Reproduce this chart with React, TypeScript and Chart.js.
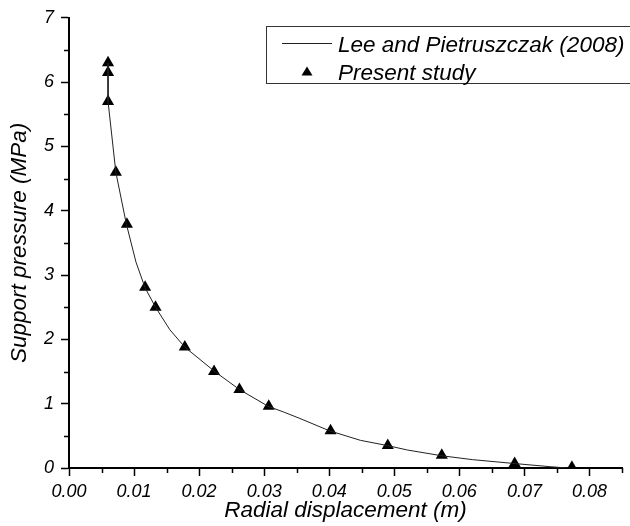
import React, { useEffect, useRef } from "react";
import { Chart, registerables } from "chart.js";

Chart.register(...registerables);

// Reference curve: Lee and Pietruszczak (2008)
const leeX = [0.006, 0.006, 0.0072, 0.0088, 0.0103, 0.0117, 0.0133, 0.0155, 0.0178, 0.0224, 0.0262, 0.0306, 0.033, 0.0355, 0.04, 0.0448, 0.0489, 0.052, 0.0573, 0.062, 0.0684, 0.074, 0.0766];
const leeY = [6.3, 5.7, 4.6, 3.8, 3.2, 2.8, 2.5, 2.15, 1.88, 1.5, 1.22, 0.96, 0.87, 0.77, 0.58, 0.43, 0.35, 0.28, 0.19, 0.13, 0.07, 0.02, 0.0];

// Present study points
const studyX = [0.006, 0.006, 0.006, 0.0072, 0.0089, 0.0117, 0.0133, 0.0178, 0.0223, 0.0262, 0.0307, 0.0402, 0.049, 0.0573, 0.0685, 0.0773];
const studyY = [6.3, 6.15, 5.7, 4.6, 3.79, 2.81, 2.5, 1.88, 1.5, 1.22, 0.96, 0.58, 0.35, 0.2, 0.07, 0.01];

const xMajorTicks = [0, 0.01, 0.02, 0.03, 0.04, 0.05, 0.06, 0.07, 0.08];
const xMinorTicks = [0.005, 0.015, 0.025, 0.035, 0.045, 0.055, 0.065, 0.075, 0.085];
const yMajorTicks = [0, 1, 2, 3, 4, 5, 6, 7];
const yMinorTicks = [0.5, 1.5, 2.5, 3.5, 4.5, 5.5, 6.5];

const legendLabels = ["Lee and Pietruszczak (2008)", "Present study"];
const xTitle = "Radial displacement (m)";
const yTitle = "Support pressure (MPa)";

const FONT = "'Liberation Sans', Arial, sans-serif";

const minorTicksPlugin = {
  id: "minorTicks",
  afterDraw(chart: any) {
    const ctx = chart.ctx;
    const xs = chart.scales.x;
    const ys = chart.scales.y;
    const area = chart.chartArea;
    ctx.save();
    ctx.strokeStyle = "#000";
    ctx.lineWidth = 1.5;
    ctx.beginPath();
    for (const v of xMinorTicks) {
      const px = Math.round(xs.getPixelForValue(v)) + 0.5;
      ctx.moveTo(px, area.bottom);
      ctx.lineTo(px, area.bottom + 5);
    }
    for (const v of yMinorTicks) {
      const py = Math.round(ys.getPixelForValue(v)) + 0.5;
      ctx.moveTo(area.left, py);
      ctx.lineTo(area.left - 5, py);
    }
    ctx.stroke();
    ctx.restore();
  },
};

const boxLegendPlugin = {
  id: "boxLegend",
  afterDraw(chart: any) {
    const ctx = chart.ctx;
    ctx.save();
    // box
    ctx.strokeStyle = "#333";
    ctx.lineWidth = 1;
    ctx.strokeRect(266.5, 26.5, 400, 57);
    // line sample
    ctx.strokeStyle = "#222";
    ctx.lineWidth = 1;
    ctx.beginPath();
    ctx.moveTo(282, 43.5);
    ctx.lineTo(332, 43.5);
    ctx.stroke();
    // triangle sample
    ctx.fillStyle = "#000";
    ctx.beginPath();
    ctx.moveTo(307, 66.5);
    ctx.lineTo(312.5, 75.5);
    ctx.lineTo(301.5, 75.5);
    ctx.closePath();
    ctx.fill();
    // labels
    ctx.fillStyle = "#000";
    ctx.font = `italic 22.5px ${FONT}`;
    ctx.textBaseline = "alphabetic";
    ctx.textAlign = "left";
    ctx.fillText(legendLabels[0], 338, 51.5);
    ctx.fillText(legendLabels[1], 338, 80);
    ctx.restore();
  },
};

export default function App() {
  const ref = useRef<HTMLCanvasElement | null>(null);

  useEffect(() => {
    if (!ref.current) return;
    const chart = new Chart(ref.current, {
      type: "scatter",
      data: {
        datasets: [
          {
            label: legendLabels[0],
            data: leeX.map((x, i) => ({ x, y: leeY[i] })),
            showLine: true,
            borderColor: "#222",
            borderWidth: 1,
            pointRadius: 0,
            tension: 0,
          },
          {
            label: legendLabels[1],
            data: studyX.map((x, i) => ({ x, y: studyY[i] })),
            showLine: false,
            pointStyle: "triangle",
            pointRadius: 7,
            backgroundColor: "#000",
            borderColor: "#000",
            borderWidth: 0,
          },
        ],
      },
      options: {
        responsive: false,
        animation: false,
        devicePixelRatio: 1,
        layout: { padding: { top: 17, right: 8, left: 0, bottom: 0 } },
        plugins: {
          legend: { display: false },
          tooltip: { enabled: false },
        },
        scales: {
          x: {
            type: "linear",
            min: 0,
            max: 0.085,
            afterBuildTicks: (scale: any) => {
              scale.ticks = xMajorTicks.map((v) => ({ value: v }));
            },
            afterFit: (scale: any) => {
              scale.height = 58;
            },
            ticks: {
              callback: (v: any) => Number(v).toFixed(2),
              color: "#000",
              font: { family: FONT, size: 18, style: "italic" },
              padding: 5,
              maxRotation: 0,
              autoSkip: false,
            },
            grid: {
              drawOnChartArea: false,
              drawTicks: true,
              tickLength: 8,
              tickColor: "#000",
              tickWidth: 1.5,
            },
            border: { display: true, color: "#000", width: 2 },
            title: {
              display: true,
              text: xTitle,
              color: "#000",
              font: { family: FONT, size: 22.5, style: "italic" },
              padding: { top: 0, bottom: 2 },
            },
          },
          y: {
            type: "linear",
            min: 0,
            max: 7,
            afterBuildTicks: (scale: any) => {
              scale.ticks = yMajorTicks.map((v) => ({ value: v }));
            },
            afterFit: (scale: any) => {
              scale.width = 69;
            },
            ticks: {
              callback: (v: any) => String(v),
              color: "#000",
              font: { family: FONT, size: 18, style: "italic" },
              padding: 7,
              autoSkip: false,
            },
            grid: {
              drawOnChartArea: false,
              drawTicks: true,
              tickLength: 8,
              tickColor: "#000",
              tickWidth: 1.5,
            },
            border: { display: true, color: "#000", width: 2 },
            title: {
              display: true,
              text: yTitle,
              color: "#000",
              font: { family: FONT, size: 22.5, style: "italic" },
              padding: { top: 6.5, bottom: 0 },
            },
          },
        },
      },
      plugins: [minorTicksPlugin, boxLegendPlugin],
    });
    return () => chart.destroy();
  }, []);

  return (
    <div style={{ position: "fixed", left: 0, top: 0, width: 630, height: 526, background: "#fff" }}>
      <canvas ref={ref} width={630} height={526} style={{ width: 630, height: 526, display: "block" }} />
    </div>
  );
}
